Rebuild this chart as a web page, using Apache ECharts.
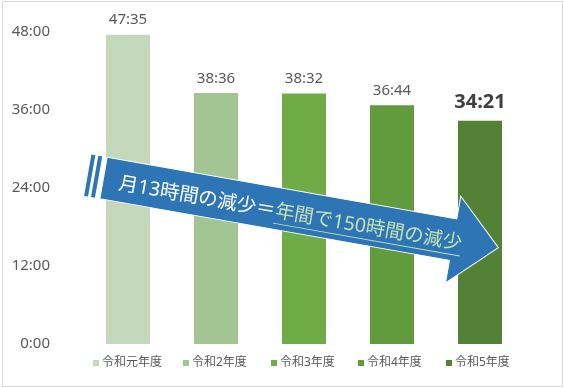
<!DOCTYPE html>
<html>
<head>
<meta charset="utf-8">
<script src="https://cdn.jsdelivr.net/npm/echarts@6/dist/echarts.min.js"></script>
<style>
  html, body { margin: 0; padding: 0; background: #fff; }
  #chart { width: 564px; height: 388px; }
</style>
</head>
<body>
<div id="chart"></div>
<script>
// 年度ごとの月平均時間外（時:分）
const categories = ['令和元年度', '令和2年度', '令和3年度', '令和4年度', '令和5年度'];
const timeLabels = ['47:35', '38:36', '38:32', '36:44', '34:21'];
const barColors = ['#C4D8BC', '#A3C593', '#6FAB46', '#629B3E', '#538135'];
const yTicks = [0, 12, 24, 36, 48];
const arrowText1 = '月13時間の減少＝';
const arrowText2 = '年間で150時間の減少';

const FONT = '"Noto Sans", "Noto Sans CJK JP", sans-serif';

function toHours(s) {
  const p = s.split(':');
  return parseInt(p[0], 10) + parseInt(p[1], 10) / 60;
}

const series = categories.map((name, i) => {
  const last = i === categories.length - 1;
  return {
    name: name,
    type: 'bar',
    stack: 'all',
    barWidth: 44,
    itemStyle: { color: barColors[i] },
    label: {
      show: true,
      position: 'top',
      distance: last ? 8 : 7,
      formatter: () => timeLabels[i],
      color: last ? '#404040' : '#595959',
      fontSize: last ? 20 : 15,
      fontWeight: last ? 'bold' : 'normal',
      fontFamily: FONT,
    },
    data: categories.map((c, j) => (j === i ? toHours(timeLabels[i]) : '-')),
  };
});

const legendLeft = [93, 183, 271, 358, 446];
const legends = categories.map((name, i) => ({
  data: [name],
  left: legendLeft[i],
  top: 357,
  padding: 0,
  itemWidth: 6,
  itemHeight: 6,
  icon: 'rect',
  selectedMode: false,
  textStyle: { color: '#595959', fontSize: 12, fontFamily: FONT, padding: [0, 0, 0, -2] },
}));

// measure the arrow text so the underline sits under the 2nd part
const ctx = document.createElement('canvas').getContext('2d');
const arrowFont = '19.5px ' + FONT;
ctx.font = arrowFont;
const w1 = ctx.measureText(arrowText1).width;
const w2 = ctx.measureText(arrowText2).width;
const tx = 16;

const arrowAngle = -10 * Math.PI / 180;

const chart = echarts.init(document.getElementById('chart'));
chart.setOption({
  animation: false,
  grid: { left: 84, right: 40, top: 32, bottom: 44 },
  legend: legends,
  xAxis: {
    type: 'category',
    data: categories,
    axisLine: { show: false },
    axisTick: { show: false },
    axisLabel: { show: false },
  },
  yAxis: {
    type: 'value',
    min: yTicks[0],
    max: yTicks[yTicks.length - 1],
    interval: 12,
    splitLine: { show: false },
    axisLine: { show: false },
    axisTick: { show: false },
    axisLabel: {
      margin: 34,
      color: '#595959',
      fontSize: 15,
      fontFamily: FONT,
      formatter: (v) => v + ':00',
    },
  },
  series: series,
  graphic: [
    {
      type: 'rect',
      shape: { x: 2.5, y: 1.5, width: 560, height: 385 },
      style: { fill: 'none', stroke: '#D9D9D9', lineWidth: 1 },
      silent: true,
    },
    {
      type: 'group',
      x: 103.5,
      y: 178,
      rotation: arrowAngle,
      silent: true,
      z: 100,
      children: [
        {
          type: 'polygon',
          z: 100,
          shape: { points: [[-16, -21], [-12, -21], [-12, 21], [-16, 21]] },
          style: { fill: '#2E75B6' },
        },
        {
          type: 'polygon',
          z: 100,
          shape: { points: [[-9, -21], [-5, -21], [-5, 21], [-9, 21]] },
          style: { fill: '#2E75B6' },
        },
        {
          type: 'polygon',
          z: 100,
          shape: {
            points: [[0, -21], [355, -21], [355, -44], [401, 0], [355, 44], [355, 21], [0, 21]],
          },
          style: { fill: '#2E75B6', stroke: '#ffffff', lineWidth: 1 },
        },
        {
          type: 'text',
          z: 101,
          style: {
            x: tx, y: 3, text: arrowText1, font: arrowFont,
            fill: '#ffffff', verticalAlign: 'middle',
          },
        },
        {
          type: 'text',
          z: 101,
          style: {
            x: tx + w1, y: 3, text: arrowText2, font: arrowFont,
            fill: '#C5E0B4', verticalAlign: 'middle',
          },
        },
        {
          type: 'line',
          z: 101,
          shape: { x1: tx + w1, y1: 15, x2: tx + w1 + w2, y2: 15 },
          style: { stroke: '#C5E0B4', lineWidth: 1 },
        },
      ],
    },
  ],
});
</script>
</body>
</html>
